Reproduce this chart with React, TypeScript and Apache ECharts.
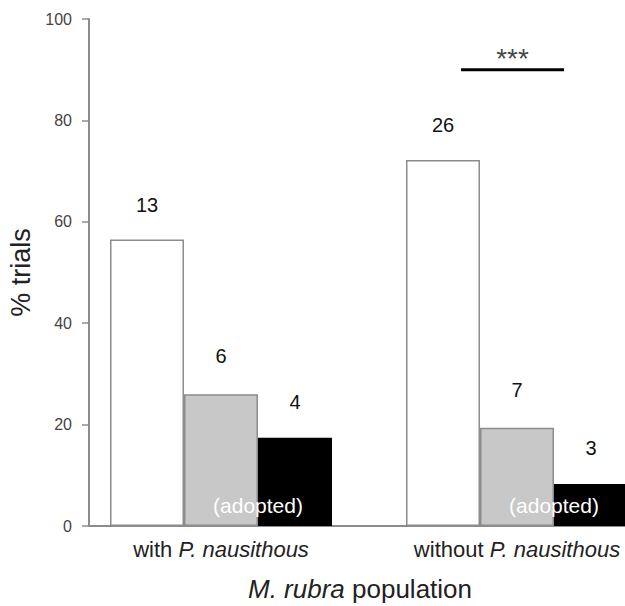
import React, { useEffect, useRef } from "react";
import * as echarts from "echarts";

const categories = ["with P. nausithous", "without P. nausithous"];
const whiteValues = [56.5, 72.2];
const grayValues = [26.0, 19.4];
const blackValues = [17.4, 8.3];
const whiteCounts = ["13", "26"];
const grayCounts = ["6", "7"];
const blackCounts = ["4", "3"];
const adoptedLabel = "(adopted)";
const yTicks = [0, 20, 40, 60, 80, 100];
const sigLineX = [1.311, 1.659];
const sigLineY = 90;
const sigText = "***";

const FONT = "'Liberation Sans', Arial, sans-serif";

export default function App() {
  const ref = useRef<HTMLDivElement>(null);
  useEffect(() => {
    document.body.style.margin = "0";
    document.body.style.overflow = "hidden";
    const chart = echarts.init(ref.current!, null, { renderer: "svg" });
    const carrier = categories.map(() => 0);
    chart.setOption({
      animation: false,
      backgroundColor: "#ffffff",
      textStyle: { fontFamily: FONT },
      grid: [
        { left: 73, width: 592, top: 19, bottom: 80, containLabel: false, outerBoundsMode: "none" },
        { left: 89, width: 576, top: 525, height: 1, containLabel: false, outerBoundsMode: "none" },
      ],
      xAxis: [
        {
          type: "category",
          gridIndex: 0,
          data: categories,
          axisLine: { show: false },
          axisTick: { show: false },
          axisLabel: {
            interval: 0,
            hideOverlap: false,
            margin: 12,
            fontSize: 22,
            color: "#222",
            fontFamily: FONT,
            formatter: (v: string) => {
              const idx = v.indexOf("P.");
              return v.slice(0, idx) + "{i|" + v.slice(idx) + "}";
            },
            rich: { i: { fontStyle: "italic", fontSize: 22, color: "#222", fontFamily: FONT } },
          },
          name: "{i|M. rubra} population",
          nameLocation: "middle",
          nameGap: 50,
          nameTextStyle: {
            fontSize: 26,
            color: "#222",
            fontFamily: FONT,
            padding: [0, 18, 0, 0],
            rich: { i: { fontStyle: "italic", fontSize: 26, color: "#222", fontFamily: FONT } },
          },
        },
        { type: "value", gridIndex: 0, min: 0, max: 2, show: false },
        {
          type: "value",
          gridIndex: 1,
          min: 0,
          max: 1,
          axisLine: { show: true, lineStyle: { color: "#8c8c8c", width: 2 } },
          axisTick: { show: false },
          axisLabel: { show: false },
          splitLine: { show: false },
        },
      ],
      yAxis: [
        {
          type: "value",
          gridIndex: 0,
          min: yTicks[0],
          max: yTicks[yTicks.length - 1],
          interval: yTicks[1] - yTicks[0],
          offset: -16,
          axisLine: { show: true, lineStyle: { color: "#8c8c8c", width: 2 } },
          axisTick: { show: true, length: 7, lineStyle: { color: "#8c8c8c", width: 1.5 } },
          axisLabel: { margin: 17, fontSize: 16, color: "#444", fontFamily: FONT },
          splitLine: { show: false },
          name: "% trials",
          nameLocation: "middle",
          nameGap: 54,
          nameTextStyle: { fontSize: 27, color: "#222", fontFamily: FONT },
        },
        { type: "value", gridIndex: 1, show: false, min: 0, max: 1 },
      ],
      series: [
        {
          type: "bar",
          xAxisIndex: 0,
          yAxisIndex: 0,
          data: whiteValues,
          barWidth: 74,
          barGap: "0%",
          barCategoryGap: "25%",
          itemStyle: { color: "#ffffff", borderColor: "#8c8c8c", borderWidth: 1.5 },
          label: {
            show: true,
            position: "top",
            distance: 25,
            fontSize: 20,
            color: "#111",
            fontFamily: FONT,
            formatter: (p: any) => whiteCounts[p.dataIndex],
          },
        },
        {
          type: "bar",
          xAxisIndex: 0,
          yAxisIndex: 0,
          data: grayValues,
          barWidth: 74,
          barGap: "0%",
          itemStyle: { color: "#c8c8c8", borderColor: "#8c8c8c", borderWidth: 1.5 },
          label: {
            show: true,
            position: "top",
            distance: 28,
            fontSize: 20,
            color: "#111",
            fontFamily: FONT,
            formatter: (p: any) => grayCounts[p.dataIndex],
          },
        },
        {
          type: "bar",
          xAxisIndex: 0,
          yAxisIndex: 0,
          stack: "blk",
          data: carrier,
          barWidth: 74,
          barGap: "0%",
          itemStyle: { color: "rgba(0,0,0,0)" },
          z: 5,
          label: {
            show: true,
            position: "insideBottom",
            distance: 10,
            offset: [-37, 0],
            fontSize: 21,
            color: "#ffffff",
            fontFamily: FONT,
            formatter: () => adoptedLabel,
          },
        },
        {
          type: "bar",
          xAxisIndex: 0,
          yAxisIndex: 0,
          stack: "blk",
          data: blackValues,
          barWidth: 74,
          barGap: "0%",
          itemStyle: { color: "#000000" },
          label: {
            show: true,
            position: "top",
            distance: 26,
            fontSize: 20,
            color: "#111",
            fontFamily: FONT,
            formatter: (p: any) => blackCounts[p.dataIndex],
          },
        },
        {
          type: "line",
          xAxisIndex: 1,
          yAxisIndex: 0,
          data: sigLineX.map((x) => [x, sigLineY]),
          symbol: "none",
          silent: true,
          lineStyle: { color: "#000", width: 3 },
        },
        {
          type: "scatter",
          xAxisIndex: 1,
          yAxisIndex: 0,
          data: [[(sigLineX[0] + sigLineX[1]) / 2, sigLineY]],
          symbolSize: 0,
          silent: true,
          label: {
            show: true,
            position: "top",
            distance: -3,
            fontSize: 28,
            color: "#111",
            fontFamily: FONT,
            formatter: () => sigText,
          },
        },
      ],
    });
    return () => chart.dispose();
  }, []);
  return <div ref={ref} style={{ width: 625, height: 606 }} />;
}
